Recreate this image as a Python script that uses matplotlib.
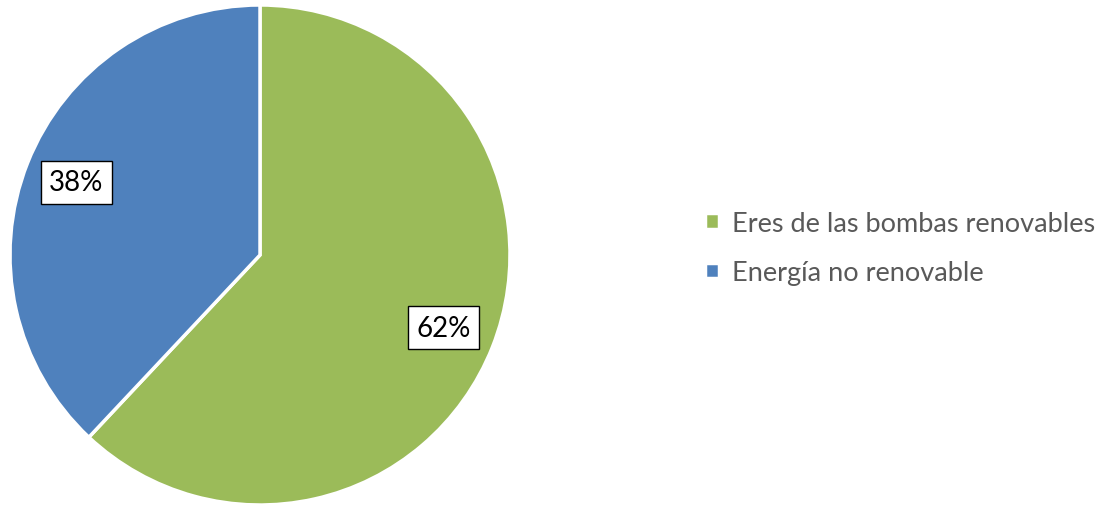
import matplotlib.pyplot as plt

labels = ['Eres de las bombas renovables', 'Energía no renovable']
values = [62, 38]
colors = ['#9BBB59', '#4F81BD']

plt.rcParams['font.family'] = ['Lato', 'DejaVu Sans']

fig = plt.figure(figsize=(11.15, 5.06), dpi=100)
ax = fig.add_axes([10/1115, 0/506, 500/1115, 500/506])

wedges, texts, autotexts = ax.pie(values, colors=colors, startangle=90, counterclock=False,
                                  autopct='%1.0f%%', pctdistance=0.79,
                                  wedgeprops=dict(edgecolor='white', linewidth=2.5),
                                  textprops=dict(fontsize=20, color='black'))
for t in autotexts:
    t.set_bbox(dict(facecolor='white', edgecolor='black', linewidth=1, boxstyle='square,pad=0.3'))
ax.set_aspect('equal')
ax.set_xlim(-1.0, 1.0)
ax.set_ylim(-1.0, 1.0)

fig.legend(wedges, labels, loc='center left', bbox_to_anchor=(681/1115, 1 - 249/506),
           frameon=False, fontsize=19.5, labelcolor='#595959',
           handlelength=0.5, handleheight=0.5, handletextpad=0.5, labelspacing=0.9)

fig.savefig('out.png', dpi=100)
